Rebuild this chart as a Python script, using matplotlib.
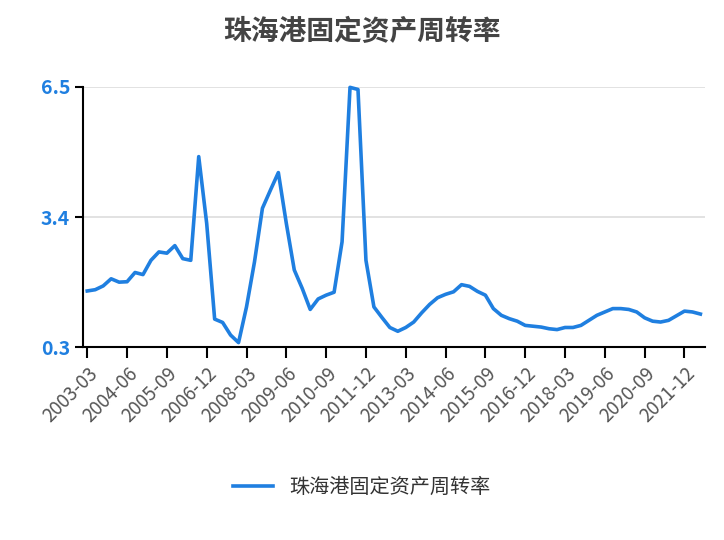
import matplotlib
matplotlib.use("Agg")
import matplotlib.pyplot as plt

plt.rcParams['font.family'] = ['Noto Sans CJK SC', 'DejaVu Sans']

title = "珠海港固定资产周转率"
values = [1.64,1.67,1.76,1.93,1.85,1.86,2.08,2.03,2.37,2.57,2.54,2.72,2.41,2.37,4.84,3.25,
          0.97,0.89,0.59,0.41,1.26,2.33,3.61,4.04,4.46,3.25,2.14,1.70,1.20,1.45,1.54,1.61,
          2.81,6.49,6.44,2.37,1.26,1.01,0.77,0.68,0.77,0.90,1.12,1.32,1.48,1.56,1.62,1.79,
          1.75,1.63,1.54,1.22,1.06,0.98,0.92,0.82,0.80,0.78,0.74,0.72,0.77,0.77,0.82,0.94,
          1.06,1.14,1.22,1.22,1.20,1.14,1.00,0.92,0.90,0.94,1.05,1.16,1.14,1.09]
dates = []
y, q = 2003, 3
for _ in values:
    dates.append(f"{y}-{q:02d}")
    q += 3
    if q > 12:
        q = 3; y += 1
yticks = [0.3, 3.4, 6.5]

fig = plt.figure(figsize=(7.24, 5.4), dpi=100)
ax = fig.add_axes([0.115, 0.357, 0.859, 0.482])
x = list(range(len(values)))
ax.plot(x, values, color='#1f7fe0', lw=2.6, clip_on=False, solid_joinstyle='round')
ax.set_ylim(0.3, 6.5)
ax.set_xlim(-0.5, 77.6)
ax.set_yticks(yticks)
ax.set_yticklabels([str(v) for v in yticks], color='#1f7fe0', fontweight='bold', fontsize=14)
ax.set_xticks(x[::5])
ax.set_xticklabels(dates[::5], rotation=45, ha='right', rotation_mode='anchor', color='#555555', fontsize=13.5)
ax.tick_params(axis='x', length=8, width=1.5, color='black')
ax.tick_params(axis='y', length=6, width=1.5, color='black')
ax.grid(axis='y', color='#dddddd', lw=1.2)
ax.set_axisbelow(True)
for s in ['top', 'right']:
    ax.spines[s].set_visible(False)
for s in ['left', 'bottom']:
    ax.spines[s].set_linewidth(1.5)
fig.text(0.5, 0.94, title, ha='center', va='center', fontsize=20, fontweight='bold', color='#444444')
ax.plot([], [], color='#1f7fe0', lw=2.6, label=title)
fig.legend(*ax.get_legend_handles_labels(), loc='center', bbox_to_anchor=(0.5, 0.097), frameon=False,
           fontsize=14.5, handlelength=2, labelcolor='#333333')
fig.savefig("out.png", dpi=100)
